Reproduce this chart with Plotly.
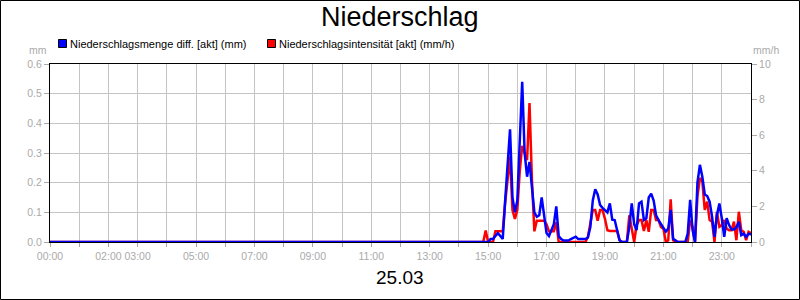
import plotly.graph_objects as go

# ---------------- data ----------------
# dry until 14:40 (00:00 point), then 5-minute values 14:40 ... 24:00
start_time = "00:00"
first_time = "14:40"
step_minutes = 5

menge_mm = [  # Niederschlagsmenge diff. [akt] (mm)
    0.0, 0.0, 0.0, 0.0,                                                      # 14:40-14:55
    0.0, 0.01, 0.01, 0.02, 0.03, 0.02, 0.01, 0.14, 0.26, 0.38, 0.15, 0.10,   # 15
    0.14, 0.35, 0.54, 0.30, 0.22, 0.27, 0.17, 0.10, 0.085, 0.09, 0.15, 0.09,  # 16
    0.03, 0.02, 0.04, 0.06, 0.12, 0.02, 0.01, 0.005, 0.005, 0.005, 0.01, 0.015,  # 17
    0.018, 0.01, 0.01, 0.01, 0.01, 0.015, 0.05, 0.14, 0.178, 0.16, 0.125, 0.115,  # 18
    0.108, 0.10, 0.13, 0.075, 0.074, 0.04, 0.006, 0.0, 0.0, 0.0, 0.05, 0.13,  # 19
    0.06, 0.04, 0.13, 0.136, 0.074, 0.08, 0.15, 0.163, 0.14, 0.09, 0.074, 0.06,  # 20
    0.045, 0.035, 0.045, 0.108, 0.011, 0.006, 0.0, 0.0, 0.0, 0.0, 0.028, 0.142,  # 21
    0.04, 0.0, 0.2, 0.26, 0.22, 0.16, 0.155, 0.136, 0.085, 0.017, 0.09, 0.13,  # 22
    0.08, 0.017, 0.08, 0.057, 0.042, 0.042, 0.05, 0.068, 0.023, 0.028, 0.017, 0.028,  # 23
    0.025,                                                                   # 24:00
]
intensitaet_mmh = [  # Niederschlagsintensität [akt] (mm/h)
    0.0, 0.0, 0.0, 0.65,
    0.0, 0.0, 0.0, 0.6, 0.6, 0.6, 0.6, 2.2, 3.6, 4.8, 1.8, 1.3,
    1.8, 4.0, 5.4, 5.0, 4.6, 7.8, 3.5, 0.6, 1.2, 1.2, 1.2, 1.2,
    1.0, 0.6, 0.6, 0.6, 1.1, 0.0, 0.0, 0.0, 0.0, 0.0, 0.0, 0.0,
    0.0, 0.0, 0.0, 0.0, 0.0, 0.3, 1.0, 1.8, 1.8, 1.2, 1.8, 1.8,
    1.3, 0.66, 0.62, 0.62, 0.62, 0.62, 0.1, 0.0, 0.0, 0.0, 1.5, 0.75,
    0.0, 0.95, 1.23, 1.23, 0.62, 1.23, 0.57, 1.8, 1.8, 1.23, 1.23, 0.85,
    0.75, 0.0, 0.1, 2.4, 0.1, 0.0, 0.0, 0.0, 0.0, 0.0, 0.0, 1.23,
    0.85, 0.0, 2.55, 3.6, 3.4, 1.8, 2.27, 1.23, 1.14, 0.0, 1.7, 0.85,
    0.95, 1.23, 0.75, 0.66, 0.66, 1.14, 0.1, 1.7, 0.66, 0.57, 0.1, 0.57,
    0.5,
]
tick_hours = list(range(25))
tick_labels = ["00:00", "", "02:00", "03:00", "", "05:00", "", "07:00", "", "09:00", "",
               "11:00", "", "13:00", "", "15:00", "", "17:00", "", "19:00", "", "21:00",
               "", "23:00", ""]

title_text = "Niederschlag"
date_text = "25.03"
name_menge = "Niederschlagsmenge diff. [akt] (mm)"
name_int = "Niederschlagsintensität [akt] (mm/h)"

# ---------------- build x (hours) ----------------
def to_hours(s):
    h, m = s.split(":")
    return int(h) + int(m) / 60.0

t0 = to_hours(first_time)
x_hours = [to_hours(start_time)] + [t0 + i * step_minutes / 60.0 for i in range(len(menge_mm))]
blue_y = [0.0] + menge_mm
red_y = [0.0] + intensitaet_mmh

# ---------------- layout helpers ----------------
W, H = 800, 300
L, R, T, B = 50, 49, 64, 58
PW, PH = W - L - R, H - T - B
def xp(px):
    return (px - L) / PW
def yp(py):
    return (H - B - py) / PH

FONT = "Liberation Sans, Arial, sans-serif"
GRAY = "#aaaaaa"
GRID = "#c4c4c4"
TICKSIZE = 10.5

fig = go.Figure()
fig.add_trace(go.Scatter(x=x_hours, y=red_y, mode="lines", name=name_int,
                         line=dict(color="#ff0000", width=2.5), yaxis="y",
                         showlegend=False, hoverinfo="skip"))
fig.add_trace(go.Scatter(x=x_hours, y=blue_y, mode="lines", name=name_menge,
                         line=dict(color="#0000ff", width=2.5), yaxis="y2",
                         showlegend=False, hoverinfo="skip"))

fig.update_layout(
    width=W, height=H,
    margin=dict(l=L, r=R, t=T, b=B, pad=0),
    paper_bgcolor="white", plot_bgcolor="white",
    font=dict(family=FONT, size=11, color=GRAY),
    showlegend=False,
    xaxis=dict(range=[0, 24], tickmode="array", tickvals=tick_hours, ticktext=tick_labels,
               tickangle=0,
               showgrid=True, gridcolor=GRID, gridwidth=1, zeroline=False,
               showline=True, linecolor="black", linewidth=1, mirror=True,
               ticks="outside", ticklen=4, tickcolor=GRAY,
               tickfont=dict(family=FONT, size=TICKSIZE, color=GRAY)),
    yaxis=dict(range=[0, 10], dtick=2, tick0=0, side="right",
               showgrid=False, zeroline=False,
               showline=True, linecolor="black", linewidth=1,
               ticks="outside", ticklen=5, tickcolor=GRAY,
               tickfont=dict(family=FONT, size=TICKSIZE, color=GRAY)),
    yaxis2=dict(range=[0, 0.6], dtick=0.1, tick0=0, tickformat=".1f", side="left",
                overlaying="y", showgrid=True, gridcolor=GRID, gridwidth=1, zeroline=False,
                showline=True, linecolor="black", linewidth=1,
                ticks="outside", ticklen=5, tickcolor=GRAY,
                tickfont=dict(family=FONT, size=TICKSIZE, color=GRAY)),
)

shapes = [
    dict(type="rect", xref="paper", yref="paper", x0=xp(0.5), x1=xp(799.5),
         y0=yp(299.5), y1=yp(0.5), line=dict(color="black", width=1)),
    dict(type="rect", xref="paper", yref="paper", x0=xp(58.5), x1=xp(66.5),
         y0=yp(47.5), y1=yp(39.5), fillcolor="#0000ff", line=dict(color="black", width=1)),
    dict(type="rect", xref="paper", yref="paper", x0=xp(267.5), x1=xp(275.5),
         y0=yp(47.5), y1=yp(39.5), fillcolor="#ff0000", line=dict(color="black", width=1)),
]
fig.update_layout(shapes=shapes)

ann = [
    dict(text=title_text, x=xp(400), y=yp(17.5), xanchor="center", yanchor="middle",
         font=dict(family=FONT, size=27, color="black")),
    dict(text=date_text, x=xp(400), y=yp(277), xanchor="center", yanchor="middle",
         font=dict(family=FONT, size=19, color="black")),
    dict(text=name_menge, x=xp(68), y=yp(44), xanchor="left", yanchor="middle",
         font=dict(family=FONT, size=11, color="black")),
    dict(text=name_int, x=xp(277), y=yp(44), xanchor="left", yanchor="middle",
         font=dict(family=FONT, size=11, color="black")),
    dict(text="mm", x=xp(49), y=yp(50), xanchor="right", yanchor="middle",
         font=dict(family=FONT, size=TICKSIZE, color=GRAY)),
    dict(text="mm/h", x=xp(751), y=yp(50), xanchor="left", yanchor="middle",
         font=dict(family=FONT, size=TICKSIZE, color=GRAY)),
]
for a in ann:
    a.update(xref="paper", yref="paper", showarrow=False)
fig.update_layout(annotations=ann)

fig.write_html("out.html")
